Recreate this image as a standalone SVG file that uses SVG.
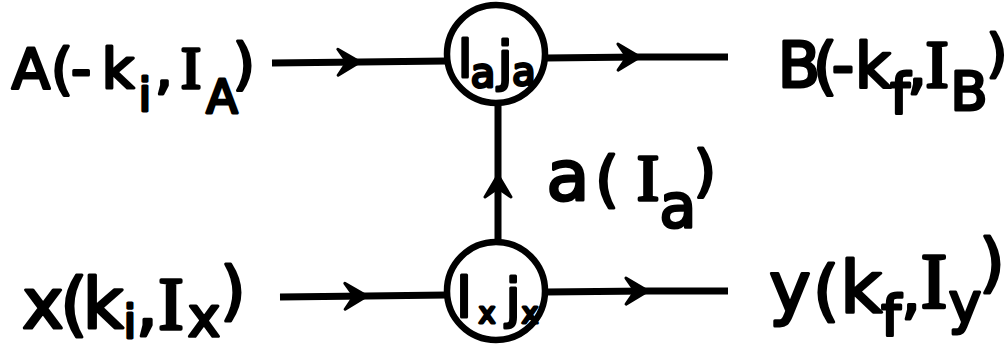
<svg xmlns="http://www.w3.org/2000/svg" width="1008" height="349" viewBox="0 0 1008 349">
<style>
.t{font-family:"DejaVu Sans","Liberation Sans",sans-serif;font-weight:normal;fill:#000;stroke:#000;stroke-width:3;stroke-linejoin:round;text-anchor:middle}
.s{font-family:"Liberation Serif","DejaVu Serif",serif;font-weight:normal;fill:#000;stroke:#000;stroke-width:3.5;stroke-linejoin:round;text-anchor:middle}
.ln{fill:none;stroke:#000;stroke-width:7;stroke-linecap:butt}
.nd{fill:#fff;stroke:#000;stroke-width:6.5}
</style>
<defs>
<marker id="ah" markerUnits="userSpaceOnUse" markerWidth="28" markerHeight="30" viewBox="-24 -15 26 30" refX="0" refY="0" orient="auto">
<path d="M0,0 L-22,-13 L-13,0 L-22,13 Z" fill="#000" stroke="#000" stroke-width="3" stroke-linejoin="round"/>
</marker>
</defs>
<rect width="1008" height="349" fill="#fff"/>
<g id="connectors">
<path class="ln" d="M272,63 L360,62 L447,61" marker-mid="url(#ah)"/>
<path class="ln" d="M546,58 L640,57 L728,57" marker-mid="url(#ah)"/>
<path class="ln" d="M280,297 L367,296 L447,295" marker-mid="url(#ah)"/>
<path class="ln" d="M546,292 L648,291 L728,291" marker-mid="url(#ah)"/>
<path class="ln" d="M498,241 L498,175 L498,105" marker-mid="url(#ah)"/>
</g>
<g id="node-top">
<circle class="nd" cx="496" cy="54" r="49"/>
<text class="t" font-size="51" x="465" y="77">l</text>
<text class="t" font-size="40" x="483" y="87">a</text>
<text class="t" font-size="53" x="505" y="80">j</text>
<text class="t" font-size="38" x="524" y="85">a</text>
</g>
<g id="node-bottom">
<circle class="nd" cx="496" cy="291" r="49"/>
<text class="t" font-size="56" x="464" y="317">l</text>
<text class="t" font-size="28" x="487" y="323">x</text>
<text class="t" font-size="53" x="513" y="317">j</text>
<text class="t" font-size="28" x="530" y="323">x</text>
</g>
<g id="label-A">
<text class="t" font-size="56" x="31 62 81 118" y="88">A(-k</text>
<text class="t" font-size="46" x="145" y="111">i</text>
<text class="t" font-size="56" x="164" y="88">,</text>
<text class="s" font-size="60" x="191" y="88">I</text>
<text class="t" font-size="46" x="222" y="113">A</text>
<text class="t" font-size="56" x="244" y="83">)</text>
</g>
<g id="label-B">
<text class="t" font-size="62" x="799 825 843 873" y="87">B(-k</text>
<text class="t" font-size="56" x="900" y="113">f</text>
<text class="t" font-size="62" x="917" y="87">,</text>
<text class="s" font-size="68" x="937" y="87">I</text>
<text class="t" font-size="54" x="969" y="110">B</text>
<text class="t" font-size="52" x="997" y="71">)</text>
</g>
<g id="label-x">
<text class="t" font-size="70" x="43 74 103" y="328">x(k</text>
<text class="t" font-size="46" x="130" y="338">i</text>
<text class="t" font-size="70" x="147" y="328">,</text>
<text class="s" font-size="75" x="171" y="329">I</text>
<text class="t" font-size="55" x="204" y="336">x</text>
<text class="t" font-size="64" x="233" y="313">)</text>
</g>
<g id="label-y">
<text class="t" font-size="70" x="790" y="312">y</text>
<text class="t" font-size="66" x="826" y="313">(</text>
<text class="t" font-size="72" x="861" y="312">k</text>
<text class="t" font-size="56" x="891" y="335">f</text>
<text class="t" font-size="60" x="911" y="312">,</text>
<text class="s" font-size="78" x="934" y="307">I</text>
<text class="t" font-size="55" x="965" y="322">y</text>
<text class="t" font-size="64" x="992" y="285">)</text>
</g>
<g id="label-a">
<text class="t" font-size="70" x="568" y="200">a</text>
<text class="t" font-size="60" x="607" y="200">(</text>
<text class="s" font-size="66" x="648" y="200">I</text>
<text class="t" font-size="60" x="678" y="227">a</text>
<text class="t" font-size="56" x="705" y="190">)</text>
</g>
</svg>
